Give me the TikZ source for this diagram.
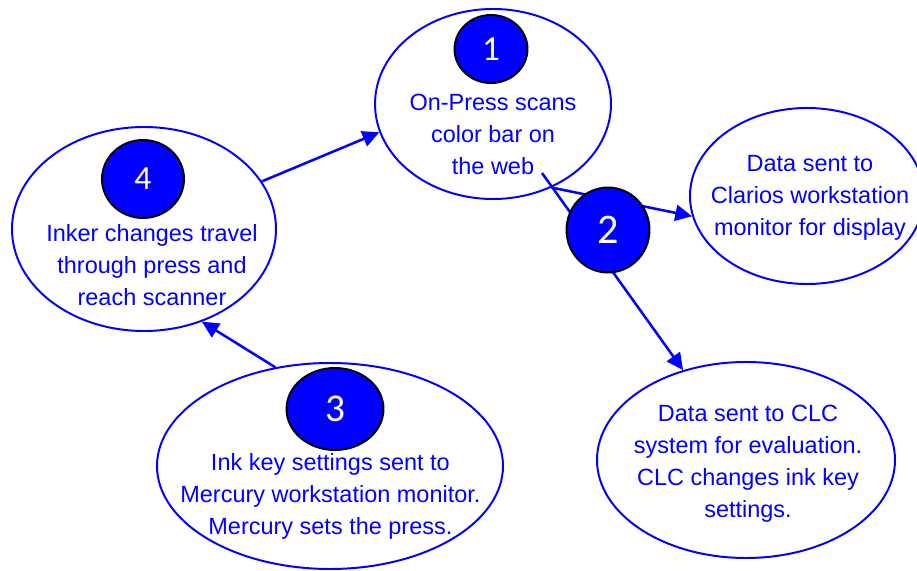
\documentclass[tikz,border=0pt]{standalone}
\usepackage{fontspec}
\setmainfont{Liberation Sans}
\newfontfamily\digitfont{Carlito}
\usetikzlibrary{arrows.meta,shapes.geometric}

\begin{document}
\begin{tikzpicture}[
  oval/.style={draw=blue, line width=1.4pt, ellipse, inner sep=0pt},
  badge/.style={draw=black, line width=1.4pt, fill=blue, ellipse, inner sep=0pt,
                text=white, font=\digitfont\fontsize{#1}{#1}\selectfont},
  txt/.style={text=blue, align=center, inner sep=0pt,
              font=\fontsize{16.7}{22.8}\selectfont},
  arr/.style={-{Triangle[length=0.42cm,width=0.4cm]}, line width=1.8pt, blue}
]
\useasboundingbox (0,0) rectangle (22.925,14.25);

%% ---- ovals ----
\node[oval, minimum width=5.9cm,  minimum height=4.75cm] (scan)    at (12.325,11.65) {};
\node[oval, minimum width=5.85cm, minimum height=4.4cm]  (clarios) at (20.175,9.35) {};
\node[oval, minimum width=7.45cm, minimum height=4.9cm]  (clc)     at (18.65,2.75) {};
\node[oval, minimum width=8.65cm, minimum height=5.15cm] (mercury) at (8.25,2.6) {};
\node[oval, minimum width=6.6cm,  minimum height=5.1cm]  (inker)   at (3.6,8.525) {};

%% ---- texts ----
\node[txt] (scanT)    at (12.325,10.9) {On-Press scans\\color bar on\\the web};
\node[txt] (clariosT) at (20.25,9.3)   {Data sent to\\Clarios workstation\\monitor for display};
\node[txt] (clcT)     at (18.7,2.65)   {Data sent to CLC\\system for evaluation.\\CLC changes ink key\\settings.};
\node[txt] (mercuryT) at (8.26,1.85)   {Ink key settings sent to\\Mercury workstation monitor.\\Mercury sets the press.};
\node[txt] (inkerT)   at (3.8,7.625)   {Inker changes travel\\through press and\\reach scanner};

\coordinate (web) at (13.55,9.925);

%% ---- arrows ----
\draw[arr] (inker.22) -- (scan.194);
\draw[arr] (mercury.119) -- (inker.302);
\draw[arr] (scan.305) -- (clarios.190);
\draw[arr] (web) -- (clc.125);

%% ---- numbered badges ----
\node[badge=25,   minimum width=1.825cm, minimum height=1.7cm]   (b1) at (12.275,13.025) {1};
\node[badge=30,   minimum width=2.075cm, minimum height=2.125cm] (b2) at (15.2,8.5)      {2};
\node[badge=28,   minimum width=2.425cm, minimum height=2.05cm]  (b3) at (8.375,4.025)   {3};
\node[badge=24,   minimum width=2.05cm,  minimum height=1.95cm]  (b4) at (3.575,9.775)   {4};

\end{tikzpicture}
\end{document}
